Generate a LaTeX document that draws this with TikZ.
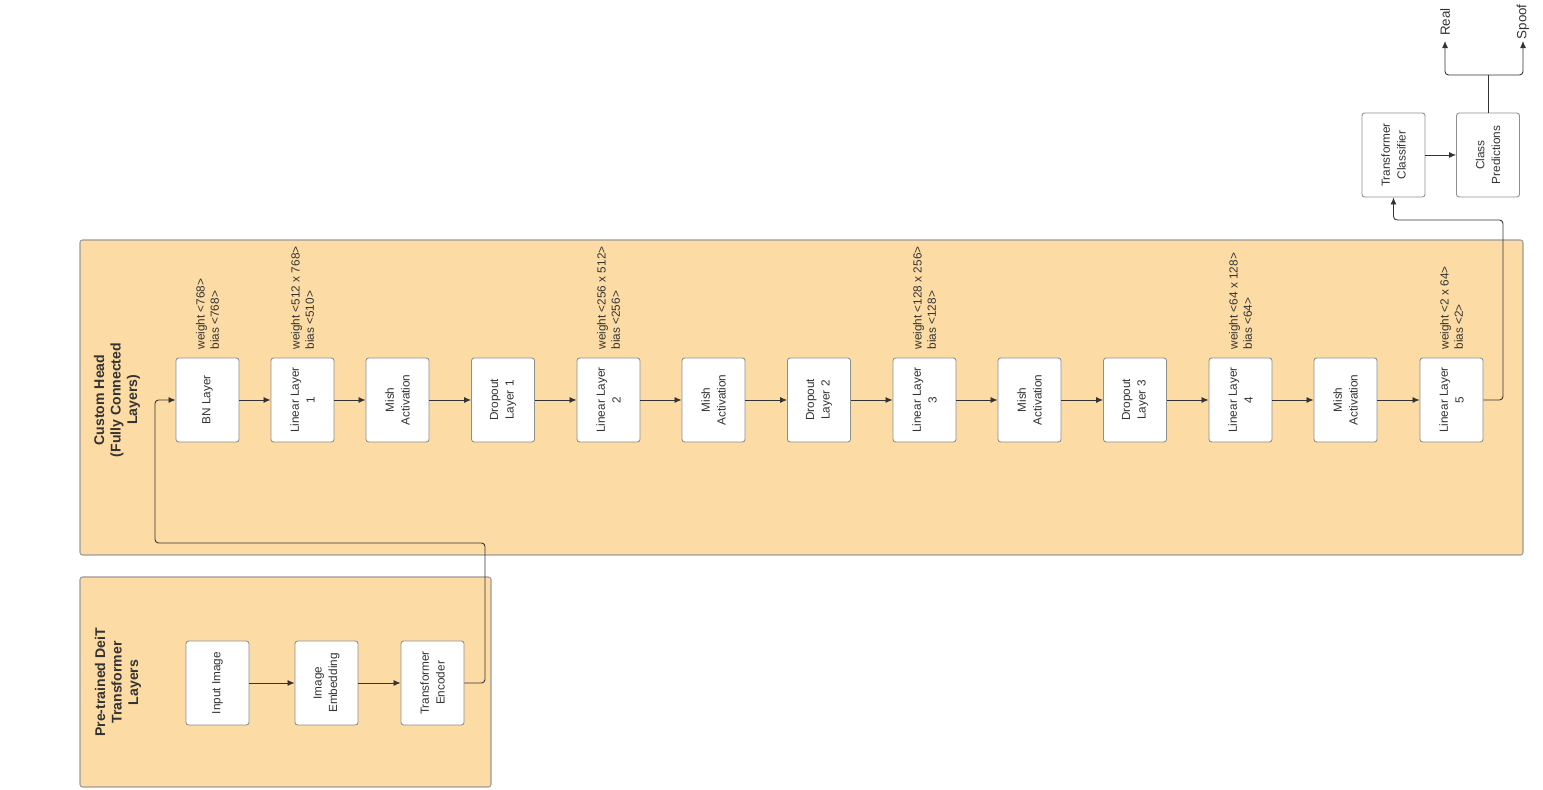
\documentclass[tikz,border=0pt]{standalone}
\usepackage{fontspec}
\setmainfont{Liberation Sans}
\usepackage{tikz}
\usepackage{xcolor}
\usetikzlibrary{arrows.meta}
\definecolor{groupfill}{HTML}{FDDBA4}
\definecolor{groupline}{HTML}{9B9B9B}
\definecolor{boxline}{HTML}{8E8E8E}
\definecolor{ink}{HTML}{333333}

\begin{document}
\begin{tikzpicture}[
		groupbox/.style={draw=groupline, fill=groupfill, rounded corners=1.5pt, line width=0.6pt},
		layerbox/.style={draw=boxline, fill=white, rounded corners=1.5pt, line width=0.5pt, rotate=90, minimum width=1.68cm, minimum height=1.26cm, inner sep=1pt, align=center, text=ink, font=\fontsize{6.7}{8.9}\selectfont},
		paramtext/.style={rotate=90, anchor=west, align=left, inner sep=0pt, inner xsep=4.5pt, text=ink, font=\fontsize{6.7}{8.1}\selectfont},
		grouptitle/.style={rotate=90, align=center, text=ink, font=\fontsize{8}{9.4}\selectfont\bfseries},
		classtext/.style={rotate=90, anchor=west, inner sep=0pt, inner xsep=2.8pt, text=ink, font=\fontsize{7.6}{9}\selectfont},
		wire/.style={draw=ink, line width=0.5pt, rounded corners=2pt},
		arrowwire/.style={wire, -{Latex[length=4pt,width=3.4pt]}}
	]
				\useasboundingbox (0,0) rectangle (30.86,15.8);
				\draw[groupbox] (1.6,4.7) rectangle (30.46,11.0);
				\draw[groupbox] (1.6,0.06) rectangle (9.82,4.26);
				\node[grouptitle] (A) at (2.34,7.8){Custom Head\\(Fully Connected\\Layers)};
				\node[grouptitle] (B) at (2.36,2.15){Pre-trained DeiT\\Transformer\\Layers};
				\node[layerbox] (C) at (4.15,7.8){BN Layer};
				\node[layerbox] (D) at (6.05,7.8){Linear Layer\\1};
				\node[layerbox] (E) at (7.95,7.8){Mish\\Activation};
				\node[layerbox] (F) at (10.06,7.8){Dropout\\Layer 1};
				\node[layerbox] (G) at (12.17,7.8){Linear Layer\\2};
				\node[layerbox] (H) at (14.27,7.8){Mish\\Activation};
				\node[layerbox] (I) at (16.38,7.8){Dropout\\Layer 2};
				\node[layerbox] (J) at (18.49,7.8){Linear Layer\\3};
				\node[layerbox] (K) at (20.59,7.8){Mish\\Activation};
				\node[layerbox] (L) at (22.7,7.8){Dropout\\Layer 3};
				\node[layerbox] (M) at (24.81,7.8){Linear Layer\\4};
				\node[layerbox] (N) at (26.91,7.8){Mish\\Activation};
				\node[layerbox] (O) at (29.03,7.8){Linear Layer\\5};
				\node[paramtext] (c) at (C.east){weight <768>\\bias <768>};
				\node[paramtext] (d) at (D.east){weight <512 x 768>\\bias <510>};
				\node[paramtext] (g) at (G.east){weight <256 x 512>\\bias <256>};
				\node[paramtext] (j) at (J.east){weight <128 x 256>\\bias <128>};
				\node[paramtext] (m) at (M.east){weight <64 x 128>\\bias <64>};
				\node[paramtext] (o) at (O.east){weight <2 x 64>\\bias <2>};
				\node[layerbox] (P) at (4.35,2.14){Input Image};
				\node[layerbox] (Q) at (6.53,2.14){Image\\Embedding};
				\node[layerbox] (R) at (8.65,2.14){Transformer\\Encoder};
				\node[layerbox] (S) at (27.87,12.7){Transformer\\Classifier};
				\node[layerbox] (T) at (29.76,12.7){Class\\Predictions};
				\node[classtext] (U) at (28.9,14.98){Real};
				\node[classtext, inner xsep=0.8pt] (V) at (30.46,14.98){Spoof};
				\coordinate (w) at (9.7,4.94);
				\coordinate (x) at (3.1,4.94);
				\coordinate (y) at (30.06,11.4);
				\coordinate (z) at (29.76,14.3);
				\draw[arrowwire] (P.south) -- (Q.north);
				\draw[arrowwire] (Q.south) -- (R.north);
				\draw[arrowwire] (R.south) -| (w) -- (x) |- (C.north);
				\draw[arrowwire] (C.south) -- (D.north);
				\draw[arrowwire] (D.south) -- (E.north);
				\draw[arrowwire] (E.south) -- (F.north);
				\draw[arrowwire] (F.south) -- (G.north);
				\draw[arrowwire] (G.south) -- (H.north);
				\draw[arrowwire] (H.south) -- (I.north);
				\draw[arrowwire] (I.south) -- (J.north);
				\draw[arrowwire] (J.south) -- (K.north);
				\draw[arrowwire] (K.south) -- (L.north);
				\draw[arrowwire] (L.south) -- (M.north);
				\draw[arrowwire] (M.south) -- (N.north);
				\draw[arrowwire] (N.south) -- (O.north);
				\draw[arrowwire] (O.south) -| (y) -| (S.west);
				\draw[arrowwire] (S.south) -- (T.north);
				\draw[wire] (T.east) -- (z);
				\draw[arrowwire] (z) -| (U.west);
				\draw[arrowwire] (z) -| (V.west);
			\end{tikzpicture}
\end{document}
